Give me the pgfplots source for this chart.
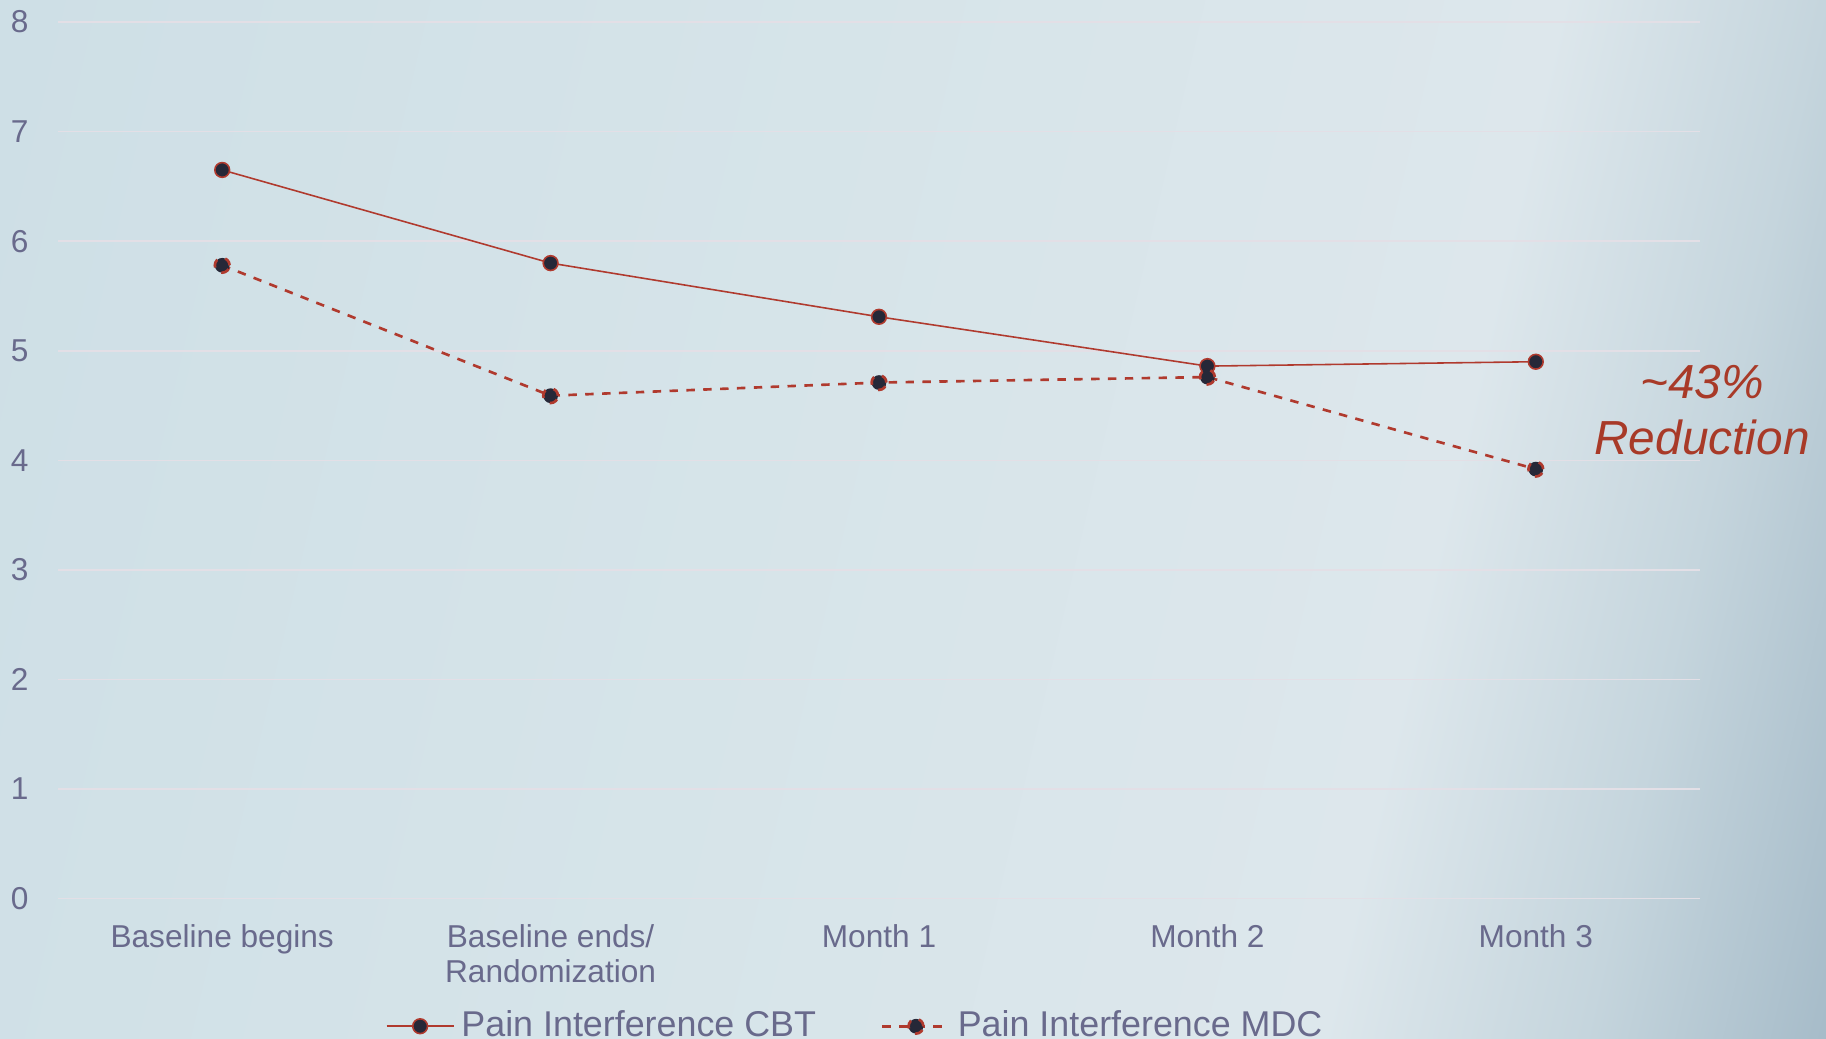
\documentclass[border=0pt]{standalone}
\usepackage{pgfplots}
\pgfplotsset{compat=1.18}
\usepackage{fontspec}
\setmainfont{Liberation Sans}
\definecolor{txt}{HTML}{696A8C}
\definecolor{lred}{HTML}{B03A2E}
\definecolor{ared}{HTML}{A83A28}
\definecolor{mfill}{HTML}{262838}
\definecolor{gridc}{HTML}{E3DFE6}
\definecolor{s0}{RGB}{204,222,229}
\definecolor{s1}{RGB}{206,223,230}
\definecolor{s2}{RGB}{214,228,233}
\definecolor{s3}{RGB}{221,231,236}
\definecolor{s4}{RGB}{197,213,221}
\definecolor{s5}{RGB}{162,184,198}
\definecolor{s6}{RGB}{155,178,193}
\pgfdeclarehorizontalshading{bgshade}{100bp}{color(0bp)=(s0); color(25bp)=(s0); color(27.05bp)=(s1); color(45.5bp)=(s2); color(61.36bp)=(s3); color(67.14bp)=(s4); color(73.25bp)=(s5); color(75bp)=(s6); color(100bp)=(s6)}
\begin{document}
\begin{tikzpicture}
\useasboundingbox (0,0) rectangle (18.26cm,10.39cm);
\begin{scope}
\clip (0,0) rectangle (18.26cm,10.39cm);
\begin{scope}[transform canvas={shift={(15.63cm,10.39cm)}, rotate=-13}]
\shade[shading=bgshade] (-16cm,-15cm) rectangle (6cm,1.5cm);
\end{scope}
\end{scope}
\begin{axis}[
  at={(0.58cm,1.403cm)}, anchor=south west,
  scale only axis, width=16.42cm, height=8.767cm,
  xmin=-0.5, xmax=4.5, ymin=0, ymax=8,
  axis line style={draw=none},
  major tick length=0pt,
  ytick={0,...,8}, xtick={0,...,4},
  xticklabels={Baseline begins, {Baseline ends/\\Randomization}, Month 1, Month 2, Month 3},
  ymajorgrids, major grid style={gridc, line width=0.45pt},
  ticklabel style={font=\fontsize{9}{10.2}\selectfont, text=txt},
  xticklabel style={align=center, yshift=-0.13cm},
  yticklabel style={xshift=-0.17cm},
  /pgf/number format/assume math mode=true,
  legend columns=2,
  legend style={draw=none, fill=none, at={(0.487,-0.1455)}, anchor=center,
    font=\fontsize{10.2}{12}\selectfont, text=txt,
    /tikz/every even column/.append style={column sep=0.58cm}},
  legend image code/.code={\draw[mark repeat=2,mark phase=2,#1] plot coordinates {(0cm,0cm) (0.335cm,0cm) (0.67cm,0cm)};},
  clip=false,
]
\addplot[lred, line width=0.45pt, mark=*, mark size=2.1pt, mark options={fill=mfill, draw=lred}]
  coordinates {(0,6.65) (1,5.80) (2,5.31) (3,4.86) (4,4.90)};
\addlegendentry{Pain Interference CBT}
\addplot[lred, line width=0.75pt, dash pattern=on 2.4pt off 2.4pt, mark=*, mark size=2.1pt, mark options={fill=mfill, draw=lred}]
  coordinates {(0,5.78) (1,4.59) (2,4.71) (3,4.76) (4,3.92)};
\addlegendentry{Pain Interference MDC}
\end{axis}
\node[font=\fontsize{13.6}{16}\selectfont\itshape, text=ared, align=center] at (17.02cm,6.29cm) {\textasciitilde 43\%\\Reduction};
\end{tikzpicture}
\end{document}
